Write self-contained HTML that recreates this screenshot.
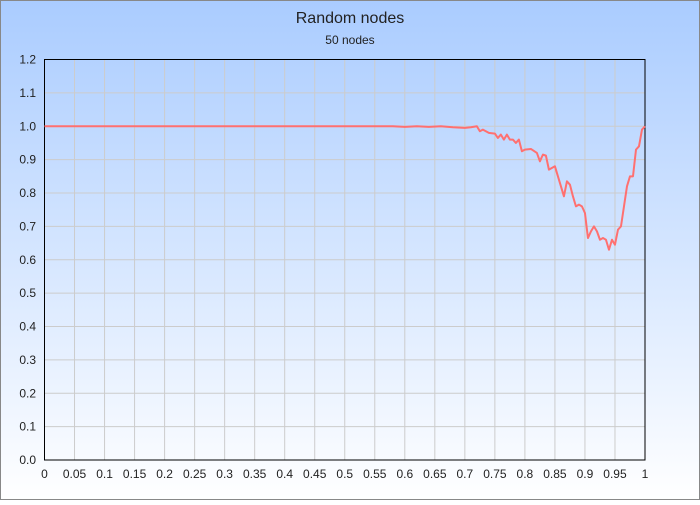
<!DOCTYPE html>
<html><head><meta charset="utf-8"><style>
body{margin:0;width:700px;height:500px;overflow:hidden;font-family:"Liberation Sans",sans-serif}
</style></head><body>
<svg width="700" height="500" xmlns="http://www.w3.org/2000/svg">
<defs><linearGradient id="bg" x1="0" y1="0" x2="0" y2="1"><stop offset="0" stop-color="#aaccff"/><stop offset="1" stop-color="#ffffff"/></linearGradient></defs>
<rect x="0.5" y="0.5" width="699" height="499" fill="url(#bg)" stroke="#888"/>
<text x="350" y="23" text-anchor="middle" font-size="16" fill="#222">Random nodes</text>
<text x="350" y="44" text-anchor="middle" font-size="12" fill="#222">50 nodes</text>
<g id="grid"></g><g id="axes"></g><g id="series"></g>
</svg>
<script>
const xTicks=[0,0.05,0.1,0.15,0.2,0.25,0.3,0.35,0.4,0.45,0.5,0.55,0.6,0.65,0.7,0.75,0.8,0.85,0.9,0.95,1];
const yTicks=[0,0.1,0.2,0.3,0.4,0.5,0.6,0.7,0.8,0.9,1.0,1.1,1.2];
const xs=[0,0.58,0.6,0.62,0.64,0.66,0.68,0.7,0.71,0.72,0.725,0.73,0.74,0.75,0.755,0.76,0.765,0.77,0.775,0.78,0.785,0.79,0.795,0.8,0.81,0.82,0.825,0.83,0.835,0.84,0.85,0.86,0.865,0.87,0.875,0.88,0.885,0.89,0.895,0.9,0.905,0.91,0.915,0.92,0.925,0.93,0.935,0.94,0.945,0.95,0.955,0.96,0.965,0.97,0.975,0.98,0.985,0.99,0.995,1.0];
const ys=[1.0,1.0,0.998,1.0,0.998,1.0,0.997,0.995,0.997,1.0,0.985,0.99,0.98,0.978,0.965,0.975,0.96,0.975,0.96,0.96,0.95,0.96,0.925,0.93,0.932,0.92,0.895,0.915,0.912,0.87,0.88,0.82,0.79,0.835,0.825,0.79,0.76,0.765,0.76,0.74,0.665,0.685,0.70,0.685,0.66,0.665,0.66,0.63,0.66,0.645,0.69,0.70,0.76,0.82,0.85,0.85,0.93,0.94,0.99,1.0];
const L=44.5,R=645,T=59.5,B=460;
const X=v=>L+(R-L)*v, Y=v=>B-(B-T)*v/1.2;
const ns="http://www.w3.org/2000/svg";
function mk(t,a,p){const e=document.createElementNS(ns,t);for(const k in a)e.setAttribute(k,a[k]);p.appendChild(e);return e;}
const g=document.getElementById('grid'),ax=document.getElementById('axes'),s=document.getElementById('series');
xTicks.forEach(t=>{const l=mk('line',{x1:X(t),x2:X(t),y1:T,y2:B,stroke:'#cccccc'},g);


const tx=mk('text',{x:X(t),y:B+18,'text-anchor':'middle','font-size':12,fill:'#222'},ax);tx.textContent=String(t);

});
yTicks.forEach(t=>{const l=mk('line',{x1:L,x2:R,y1:Y(t),y2:Y(t),stroke:'#cccccc'},g);


const tx=mk('text',{x:36,y:Y(t)+4,'text-anchor':'end','font-size':12,fill:'#222'},ax);tx.textContent=t.toFixed(1);

});
const fr=mk('rect',{x:L,y:T,width:R-L,height:B-T,fill:'none',stroke:'#000'},ax);


const p=mk('polyline',{points:xs.map((x,i)=>X(x)+','+Y(ys[i])).join(' '),fill:'none',stroke:'#ff7070','stroke-width':2,'stroke-linejoin':'round'},s);


</script>
</body></html>
